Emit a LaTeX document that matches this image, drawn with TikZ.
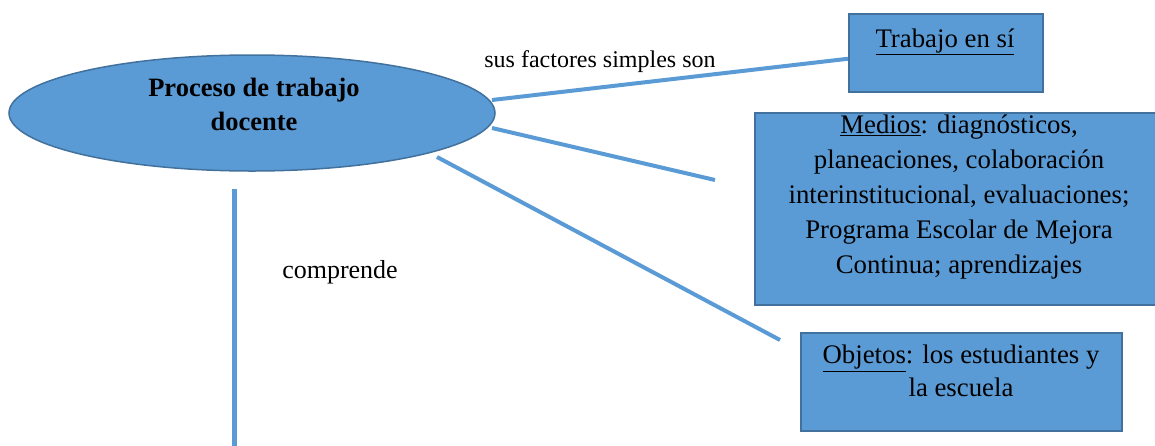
\documentclass[tikz,border=0pt]{standalone}
\usepackage{fontspec}
\setmainfont{Liberation Serif}
\usetikzlibrary{shapes.geometric}
\definecolor{fillblue}{RGB}{91,155,213}
\definecolor{edgeblue}{RGB}{65,113,156}
\definecolor{lineblue}{RGB}{91,155,213}
\tikzset{
  boxshape/.style={draw=edgeblue, fill=fillblue, line width=1.5pt, rectangle, inner sep=0pt, anchor=north west},
  boxtext/.style={align=center, inner sep=0pt, font=\fontsize{26.8}{35}\selectfont},
  conn/.style={draw=lineblue, line width=4pt},
  lbl/.style={inner sep=0pt, font=\fontsize{26}{32}\selectfont}
}
\begin{document}
\begin{tikzpicture}[x=1pt,y=-1pt]
\useasboundingbox (0,0) rectangle (1155,445);
% ellipse
\node[ellipse, draw=edgeblue, fill=fillblue, line width=1.5pt, inner sep=0pt,
      minimum width=486pt, minimum height=116pt] (ell) at (252,113) {};
\node[align=center, inner sep=0pt, font=\bfseries\fontsize{26.5}{34}\selectfont] (elltxt) at (254,104) {Proceso de trabajo\\docente};
% boxes
\node[boxshape, minimum width=194pt, minimum height=78pt] (b1) at (848,13) {};
\node[boxtext] (t1) at (945,42) {\underline{Trabajo en sí}};
\node[boxshape, minimum width=403pt, minimum height=192pt] (b2) at (754,112) {};
\node[boxtext] (t2) at (959,197) {\underline{Medios}: diagnósticos,\\planeaciones, colaboración\\interinstitucional, evaluaciones;\\Programa Escolar de Mejora\\Continua; aprendizajes};
\node[boxshape, minimum width=321pt, minimum height=98pt] (b3) at (800,332) {};
\node[boxtext, font=\fontsize{26.8}{33}\selectfont] (t3) at (961,371) {\underline{Objetos}: los estudiantes y\\la escuela};
% labels
\node[lbl, font=\fontsize{24}{30}\selectfont] (l1) at (600,62) {sus factores simples son};
\node[lbl] (l2) at (340,272) {comprende};
% connectors
\coordinate (e1) at (492,100);
\coordinate (e2) at (492,128);
\coordinate (e3) at (437,157);
\coordinate (e4) at (234.5,189);
\coordinate (f2) at (715,180);
\coordinate (f3) at (780,340);
\coordinate (f4) at (234.5,446);
\draw[conn] (e1) -- ([yshift=-6pt]b1.west);
\draw[conn] (e2) -- (f2);
\draw[conn] (e3) -- (f3);
\draw[conn, line width=5pt] (e4) -- (f4);
\end{tikzpicture}
\end{document}
